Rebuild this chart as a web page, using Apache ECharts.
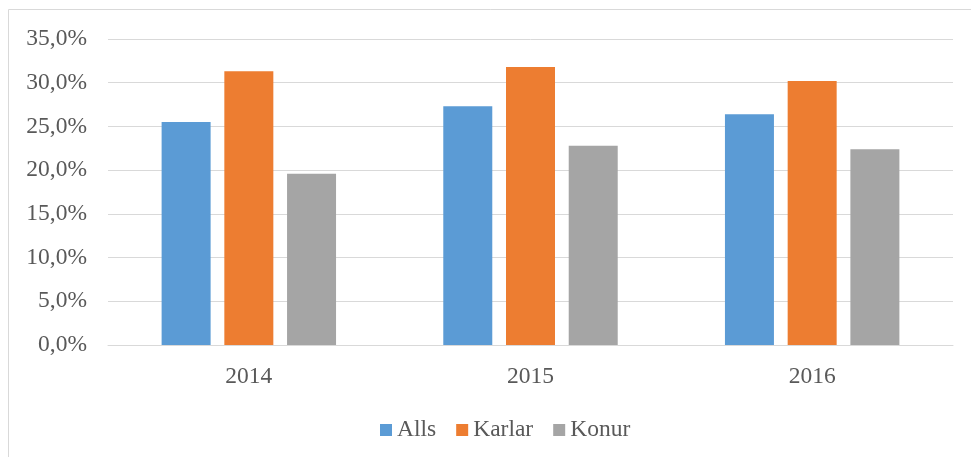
<!DOCTYPE html>
<html>
<head>
<meta charset="utf-8">
<script src="https://cdn.jsdelivr.net/npm/echarts@6/dist/echarts.min.js"></script>
<style>
  html, body { margin: 0; padding: 0; background: #fff; }
  #chart { width: 971px; height: 457px; }
</style>
</head>
<body>
<div id="chart"></div>
<script>
// Chart data
const years = ['2014', '2015', '2016']
const alls = [25.5, 27.3, 26.4]
const karlar = [31.3, 31.8, 30.2]
const konur = [19.6, 22.8, 22.4]

const FONT = '"Liberation Serif", "DejaVu Serif", serif'
const TEXT = '#595959'
const FS = 23.5

const chart = echarts.init(document.getElementById('chart'))

const formatPct = (v) => v.toFixed(1).replace('.', ',') + '%'

const option = {
  animation: false,
  textStyle: { fontFamily: FONT },
  // light frame around the chart area
  graphic: [
    {
      type: 'rect',
      shape: { x: 8.5, y: 9.5, width: 1000, height: 500 },
      style: { fill: 'none', stroke: '#d9d9d9', lineWidth: 1 },
      silent: true
    }
  ],
  legend: {
    data: ['Alls', 'Karlar', 'Konur'],
    left: 375,
    top: 413,
    icon: 'rect',
    itemWidth: 12,
    itemHeight: 12,
    itemGap: 20,
    textStyle: { fontFamily: FONT, fontSize: FS, color: TEXT }
  },
  grid: {
    left: 108,
    right: 18,
    top: 39,
    bottom: 112
  },
  xAxis: {
    type: 'category',
    data: years,
    axisLine: { lineStyle: { color: '#d9d9d9', width: 1 } },
    axisTick: { show: false },
    axisLabel: { fontFamily: FONT, fontSize: FS, color: TEXT, margin: 20 }
  },
  yAxis: {
    type: 'value',
    min: 0,
    max: 35,
    interval: 5,
    axisLine: { show: false },
    axisTick: { show: false },
    axisLabel: {
      fontFamily: FONT,
      fontSize: FS,
      color: TEXT,
      margin: 21,
      formatter: formatPct
    },
    splitLine: { lineStyle: { color: '#d9d9d9', width: 1 } }
  },
  series: [
    {
      name: 'Alls',
      type: 'bar',
      data: alls,
      barWidth: 49,
      barGap: '28%',
      itemStyle: { color: '#5b9bd5' }
    },
    {
      name: 'Karlar',
      type: 'bar',
      data: karlar,
      barWidth: 49,
      barGap: '28%',
      itemStyle: { color: '#ed7d31' }
    },
    {
      name: 'Konur',
      type: 'bar',
      data: konur,
      barWidth: 49,
      barGap: '28%',
      itemStyle: { color: '#a5a5a5' }
    }
  ]
}

chart.setOption(option)
</script>
</body>
</html>
